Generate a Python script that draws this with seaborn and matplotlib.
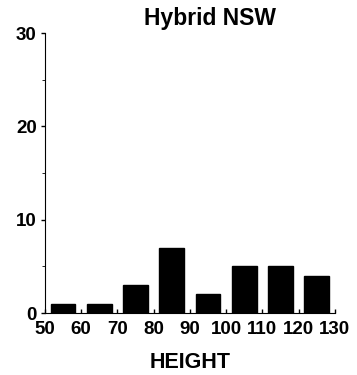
import matplotlib
matplotlib.use("Agg")
import matplotlib.pyplot as plt
import numpy as np
import seaborn as sns
from matplotlib.ticker import MultipleLocator

# bin midpoints and counts
height_mid = [55, 65, 75, 85, 95, 105, 115, 125]
counts = [1, 1, 3, 7, 2, 5, 5, 4]
bin_edges = [50, 60, 70, 80, 90, 100, 110, 120, 130]
y_ticks = [0, 10, 20, 30]

sns.set_style("ticks", {"text.color": "black", "axes.edgecolor": "black",
                        "xtick.color": "black", "ytick.color": "black",
                        "axes.labelcolor": "black"})
plt.rcParams["font.family"] = ["Liberation Sans", "DejaVu Sans"]

fig = plt.figure(figsize=(3.57, 3.75), dpi=100)
ax = fig.add_axes([0.126, 0.165, 0.812, 0.747])

sns.histplot(x=height_mid, weights=counts, bins=bin_edges, shrink=0.68,
             color="black", edgecolor="black", alpha=1, ax=ax)

ax.set_xlim(50, 130)
ax.set_ylim(0, 30)
ax.set_xticks(bin_edges)
ax.set_yticks(y_ticks)
ax.yaxis.set_minor_locator(MultipleLocator(5))
ax.tick_params(axis="both", labelsize=13.5, width=1, length=3, pad=3)
ax.tick_params(axis="x", direction="in", length=3, pad=6)
ax.tick_params(axis="y", which="minor", length=2)
for lab in ax.get_xticklabels() + ax.get_yticklabels():
    lab.set_fontweight("bold")

ax.set_ylabel("")
ax.set_xlabel("HEIGHT", fontsize=15.5, fontweight="bold", labelpad=10)
sns.despine(ax=ax)

fig.text(210 / 357, 1 - 18 / 375, "Hybrid NSW", ha="center", va="center",
         fontsize=16.5, fontweight="bold", color="black")

fig.savefig("out.png", dpi=100)
